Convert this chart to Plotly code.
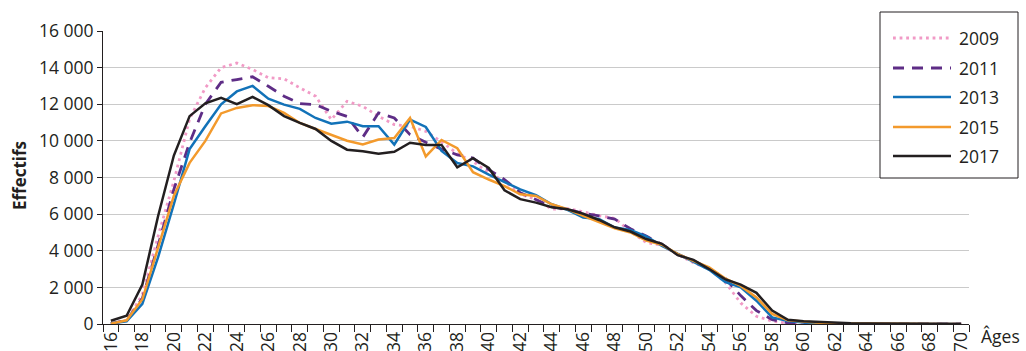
import plotly.graph_objects as go

# ---- data ----
ages = list(range(16, 71))
age_labels = [str(a) for a in ages[::2]]

y2009 = [20, 200, 1600, 4800, 7800, 11200, 12900, 14000, 14250, 13900,
         13450, 13390, 12900, 12440, 11160, 12160, 11890, 11340, 10890, 10800,
         10520, 9950, 9300, 8880, 8250, 7800, 7080, 6810, 6270, 6300,
         6130, 5910, 5770, 5050, 4450, 4300, 3800, 3350, 3000, 2300,
         1150, 420, 160, 40, 10, 5, 5, 5, 5, 5,
         5, 5, 5, 5, 5]
y2011 = [20, 200, 1400, 4300, 7350, 9900, 12000, 13200, 13350, 13500,
         12980, 12440, 12040, 11980, 11620, 11340, 10200, 11530, 11250, 10340,
         9920, 9550, 9240, 9060, 8430, 7890, 7170, 6810, 6410, 6250,
         6050, 5910, 5730, 5200, 4800, 4350, 3800, 3450, 3000, 2500,
         1550, 730, 240, 60, 20, 10, 10, 5, 5, 5,
         5, 5, 5, 5, 5]
y2013 = [30, 150, 1100, 3650, 6550, 9550, 10800, 12000, 12700, 13000,
         12300, 11980, 11750, 11250, 10940, 11050, 10800, 10800, 9800, 11160,
         10760, 9450, 8790, 8610, 8160, 7750, 7350, 7030, 6540, 6230,
         5820, 5730, 5270, 5130, 4780, 4270, 3820, 3400, 2960, 2300,
         2000, 1270, 360, 170, 80, 40, 20, 15, 10, 10,
         5, 5, 5, 5, 5]
y2015 = [20, 200, 1350, 4200, 7000, 8800, 10000, 11500, 11800, 11950,
         11900, 11530, 10980, 10650, 10340, 10010, 9800, 10070, 10160, 11250,
         9150, 10050, 9600, 8290, 7890, 7530, 7080, 6990, 6540, 6270,
         5910, 5550, 5220, 5000, 4550, 4330, 3820, 3450, 3090, 2490,
         2080, 1450, 550, 200, 120, 70, 40, 30, 20, 15,
         10, 10, 5, 5, 5]
y2017 = [180, 450, 2150, 5900, 9200, 11350, 12050, 12350, 12000, 12400,
         11950, 11350, 10980, 10650, 10000, 9520, 9430, 9300, 9400, 9900,
         9780, 9780, 8560, 9060, 8520, 7300, 6820, 6630, 6380, 6270,
         6020, 5680, 5280, 5050, 4640, 4380, 3760, 3500, 3000, 2450,
         2150, 1700, 730, 230, 150, 100, 60, 40, 30, 25,
         20, 15, 10, 10, 5]

series_names = ["2009", "2011", "2013", "2015", "2017"]
series_values = [y2009, y2011, y2013, y2015, y2017]
series_colors = ["#F19AC6", "#5E2D86", "#1272B8", "#F39A2C", "#231F20"]
series_dashes = ["2.8px,3.8px", "11px,8px", "solid", "solid", "solid"]
series_widths = [2.8, 2.8, 2.5, 2.5, 2.5]

TEXT = "#231F20"
FONT = "Open Sans"

fig = go.Figure()
for name, vals, col, dash, w in zip(series_names, series_values, series_colors,
                                    series_dashes, series_widths):
    fig.add_trace(go.Scatter(x=ages, y=vals, mode="lines", name=name,
                             line=dict(color=col, width=w, dash=dash),
                             showlegend=False))

# plot-area geometry in pixels (used for the hand-made legend)
L, R, T, B = 103, 969, 31, 324
def px(x):
    return (x - L) / (R - L)
def py(y):
    return (B - y) / (B - T)

shapes = [dict(type="rect", xref="paper", yref="paper",
               x0=px(880), x1=px(1018), y0=py(178), y1=py(12),
               line=dict(color=TEXT, width=1), fillcolor="white", layer="above")]
annotations = []
leg_y = [38, 68, 97, 127, 156]
for name, col, dash, w, yy in zip(series_names, series_colors, series_dashes,
                                  series_widths, leg_y):
    shapes.append(dict(type="line", xref="paper", yref="paper",
                       x0=px(893), x1=px(951), y0=py(yy), y1=py(yy),
                       line=dict(color=col, width=w, dash=dash), layer="above"))
    annotations.append(dict(text=name, xref="paper", yref="paper",
                            x=px(957), y=py(yy), xanchor="left", yanchor="middle",
                            showarrow=False, font=dict(size=17.5, color=TEXT, family=FONT)))

annotations.append(dict(text="Âges", xref="paper", yref="paper",
                        x=px(979), y=py(336), xanchor="left", yanchor="middle",
                        showarrow=False, font=dict(size=17.5, color=TEXT, family=FONT)))
annotations.append(dict(text="<b>Effectifs</b>", xref="paper", yref="paper",
                        x=px(19), y=py(176), xanchor="center", yanchor="middle",
                        textangle=-90, showarrow=False,
                        font=dict(size=17, color=TEXT, family=FONT)))

fig.update_layout(
    width=1026, height=351,
    margin=dict(l=L, r=1026 - R, t=T, b=351 - B, pad=0, autoexpand=False),
    paper_bgcolor="white", plot_bgcolor="white",
    font=dict(family=FONT, size=17.5, color=TEXT),
    separators=", ",
    showlegend=False,
    xaxis=dict(range=[15.5, 70.5], tickmode="array", tickvals=ages[::2],
               ticktext=age_labels, tickangle=-90, ticks="",
               showgrid=False, zeroline=False, showline=True,
               linecolor=TEXT, linewidth=1, automargin=False,
               minor=dict(tickmode="linear", tick0=15.5, dtick=1,
                          ticks="outside", ticklen=7, tickcolor=TEXT,
                          tickwidth=1, showgrid=False)),
    yaxis=dict(range=[0, 16000], tickmode="linear", tick0=0, dtick=2000,
               tickformat=",d", ticks="outside", ticklen=5, tickcolor=TEXT,
               tickwidth=1, showgrid=True, gridcolor="#CACACA", gridwidth=1,
               zeroline=False, showline=True, linecolor=TEXT, linewidth=1,
               automargin=False),
    shapes=shapes, annotations=annotations,
)

fig.write_html("out.html", config={"displayModeBar": False},
               post_script="document.body.style.margin='0';document.body.style.padding='0';")
